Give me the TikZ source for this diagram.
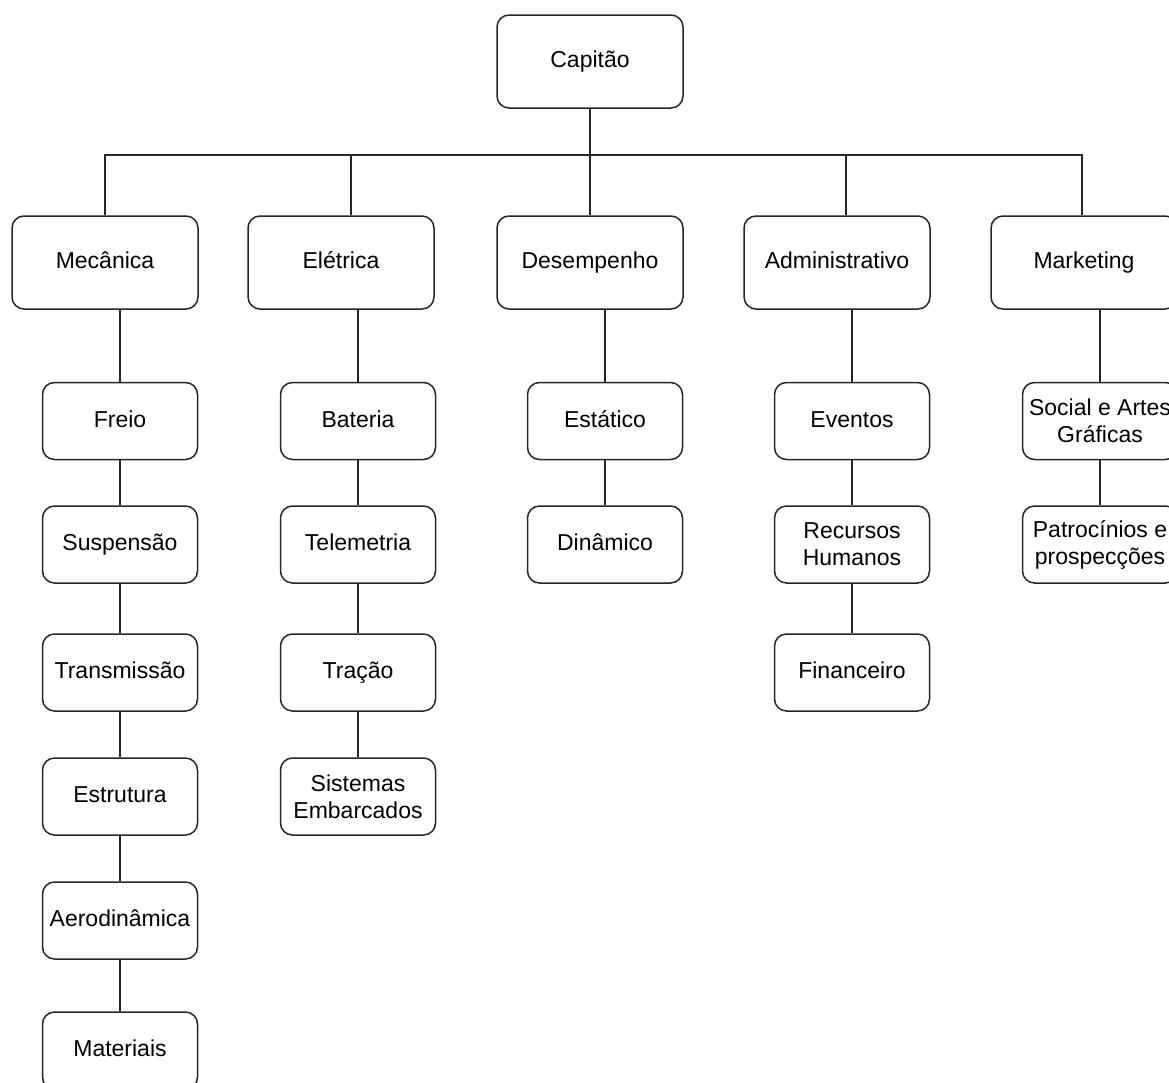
\documentclass[tikz,border=0pt]{standalone}
\usepackage{fontspec}
\setmainfont{Liberation Sans}
\begin{document}
\begin{tikzpicture}[x=1pt,y=-1pt,
  box/.style={draw=black!85, line width=1.5pt, rounded corners=12pt, fill=white,
    inner sep=0pt, align=center, font=\fontsize{23}{27}\selectfont},
  one/.style={text height=16.5pt, text depth=4.5pt},
  big/.style={box, one, minimum width=186pt, minimum height=93pt},
  small/.style={box, minimum width=155pt, minimum height=77pt},
  link/.style={draw=black!85, line width=1.5pt}]
\useasboundingbox (0,0) rectangle (1169,1082);
\clip (0,0) rectangle (1169,1082);
% top
\node[big] (cap) at (590,61.5) {Capitão};
\coordinate (bus) at (590,155);
% row 1
\node[big] (mec) at (105,262.5) {Mecânica};
\node[big] (ele) at (341,262.5) {Elétrica};
\node[big] (des) at (590,262.5) {Desempenho};
\node[big] (adm) at (837,262.5) {Administrativo};
\node[big] (mkt) at (1084,262.5) {Marketing};
% Mecanica column
\node[small,one] (fre) at (120,421) {Freio};
\node[small,one] (sus) at (120,544.5) {Suspensão};
\node[small,one] (tra) at (120,672.5) {Transmissão};
\node[small,one] (est) at (120,796.5) {Estrutura};
\node[small,one] (aer) at (120,920.5) {Aerodinâmica};
\node[small,one] (mat) at (120,1050.5) {Materiais};
% Eletrica column
\node[small,one] (bat) at (358,421) {Bateria};
\node[small,one] (tel) at (358,544.5) {Telemetria};
\node[small,one] (trc) at (358,672.5) {Tração};
\node[small] (sis) at (358,796.5) {Sistemas\\Embarcados};
% Desempenho column
\node[small,one] (sta) at (605,421) {Estático};
\node[small,one] (din) at (605,544.5) {Dinâmico};
% Administrativo column
\node[small,one] (eve) at (852,421) {Eventos};
\node[small] (rh) at (852,544.5) {Recursos\\Humanos};
\node[small,one] (fin) at (852,672.5) {Financeiro};
% Marketing column
\node[small] (soc) at (1100,421) {Social e Artes\\Gráficas};
\node[small] (pat) at (1100,544.5) {Patrocínios e\\prospecções};
% connectors: top level
\draw[link] (cap.south) -- (des.north);
\draw[link] (mec.north) |- (bus) -| ([xshift=-2pt]mkt.north);
\draw[link] ([xshift=10pt]ele.north) -- ([xshift=10pt]ele.north |- bus);
\draw[link] ([xshift=9pt]adm.north) -- ([xshift=9pt]adm.north |- bus);
% columns
\draw[link] (fre.north) -- (fre.north |- mec.south);
\draw[link] (fre) -- (sus) (sus) -- (tra) (tra) -- (est) (est) -- (aer) (aer) -- (mat);
\draw[link] (bat.north) -- (bat.north |- ele.south);
\draw[link] (bat) -- (tel) (tel) -- (trc) (trc) -- (sis);
\draw[link] (sta.north) -- (sta.north |- des.south);
\draw[link] (sta) -- (din);
\draw[link] (eve.north) -- (eve.north |- adm.south);
\draw[link] (eve) -- (rh) (rh) -- (fin);
\draw[link] (soc.north) -- (soc.north |- mkt.south);
\draw[link] (soc) -- (pat);
\end{tikzpicture}
\end{document}
